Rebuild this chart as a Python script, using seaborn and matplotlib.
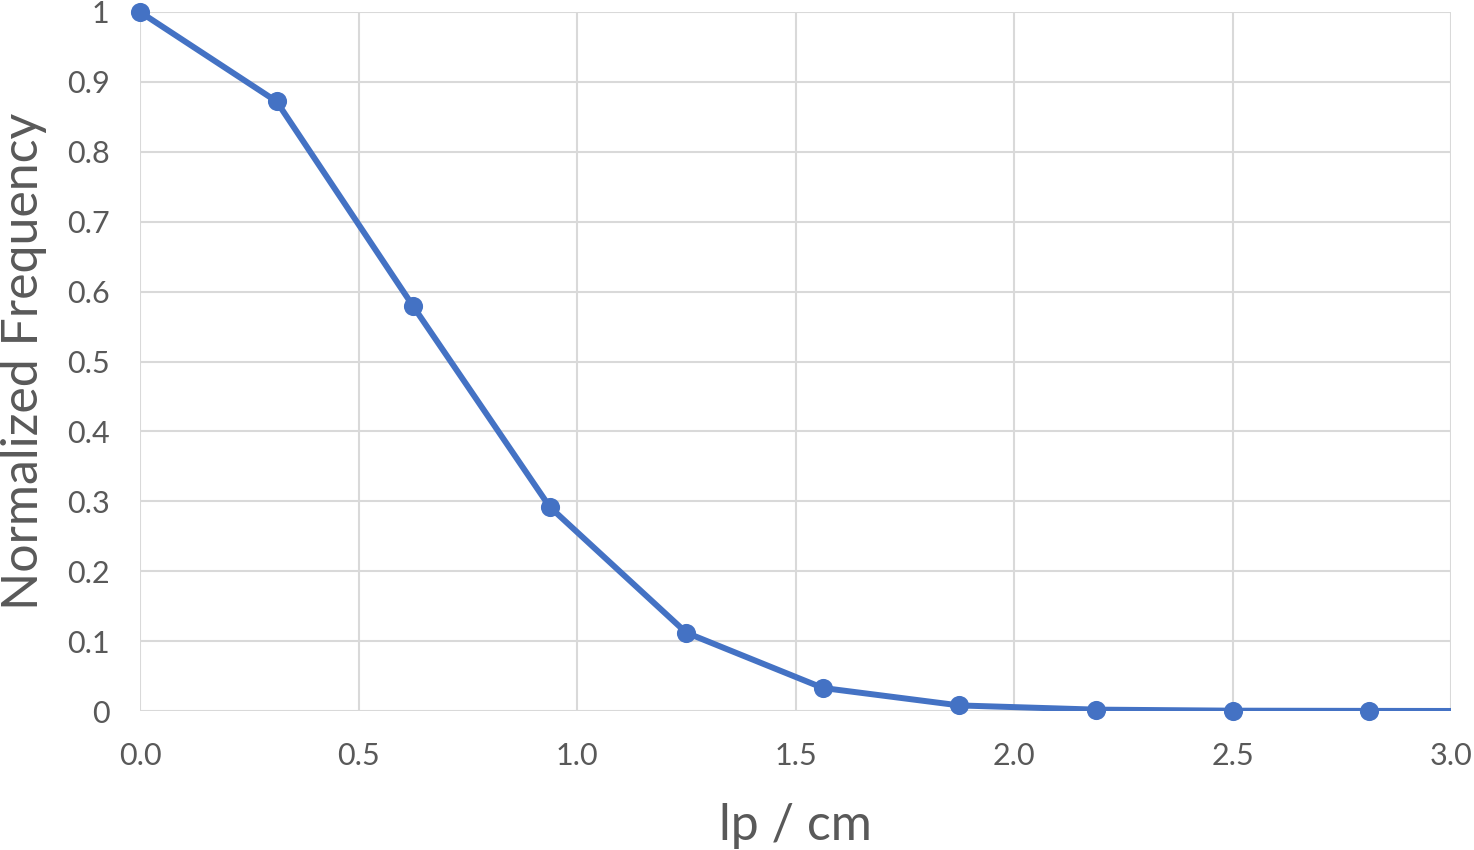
import numpy as np
import pandas as pd
import matplotlib
matplotlib.use('Agg')
import matplotlib.pyplot as plt
import seaborn as sns

# Veri
lp_cm = [0.0, 0.3125, 0.625, 0.9375, 1.25, 1.5625, 1.875, 2.1875, 2.5, 2.8125, 3.125]
norm_freq = [1.0, 0.872, 0.579, 0.292, 0.112, 0.033, 0.008, 0.002, 0.0005, 0.0002, 0.0]
x_ticks = [0.0, 0.5, 1.0, 1.5, 2.0, 2.5, 3.0]
x_tick_labels = ['0.0', '0.5', '1.0', '1.5', '2.0', '2.5', '3.0']
y_ticks = [0, 0.1, 0.2, 0.3, 0.4, 0.5, 0.6, 0.7, 0.8, 0.9, 1.0]
y_tick_labels = ['0', '0.1', '0.2', '0.3', '0.4', '0.5', '0.6', '0.7', '0.8', '0.9', '1']

df = pd.DataFrame({'lp': lp_cm, 'freq': norm_freq})
x_max = 3.0

sns.set_theme(style='white')
plt.rcParams['font.family'] = ['Lato', 'DejaVu Sans']
text_color = '#595959'
grid_color = '#d9d9d9'
blue = '#4472c4'

fig = plt.figure(figsize=(14.74, 8.5), dpi=100)
ax = fig.add_axes([0.095, 0.1635, 0.8895, 0.8224])

# çizgi (eksen sınırında kırpılır)
sns.lineplot(data=df, x='lp', y='freq', ax=ax, color=blue, linewidth=4.3, zorder=3)
# işaretler (görünür aralıktakiler, kırpılmadan)
pts = sns.scatterplot(data=df[df['lp'] <= x_max], x='lp', y='freq', ax=ax,
                      color=blue, s=190, linewidth=0, zorder=4)
for coll in ax.collections:
    coll.set_clip_on(False)

ax.set_xlim(0, x_max)
ax.set_ylim(0, 1.0)
ax.set_xticks(x_ticks)
ax.set_xticklabels(x_tick_labels)
ax.set_yticks(y_ticks)
ax.set_yticklabels(y_tick_labels)
ax.grid(True, color=grid_color, linewidth=1.5)
ax.set_axisbelow(True)
for s in ax.spines.values():
    s.set_visible(False)

ax.tick_params(axis='both', length=0, labelsize=22, labelcolor=text_color)
ax.tick_params(axis='x', pad=22)
ax.tick_params(axis='y', pad=22)
ax.set_xlabel('lp / cm', fontsize=36, color=text_color, labelpad=24)
ax.set_ylabel('Normalized Frequency', fontsize=36, color=text_color, labelpad=14)

fig.savefig('out.png', dpi=100)
